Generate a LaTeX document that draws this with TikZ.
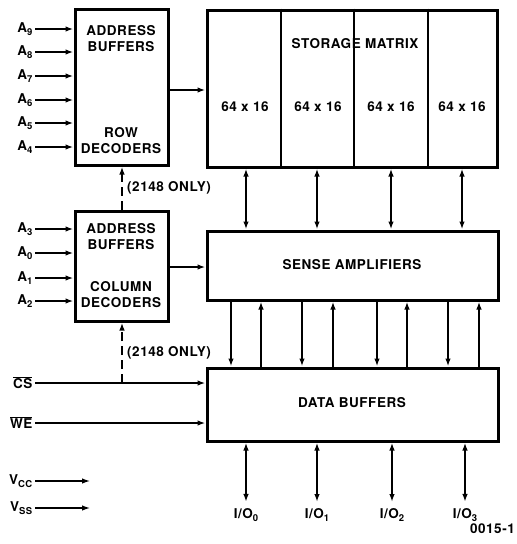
\documentclass[tikz,border=0pt]{standalone}
\usepackage{fontspec}
\setmainfont{TeX Gyre Heros}[LetterSpace=4]
\usetikzlibrary{arrows.meta}
\newcommand{\lowsub}[1]{\raisebox{-0.4ex}{\fontsize{9.5}{9.5}\selectfont #1}}

\begin{document}
\begin{tikzpicture}[x=1pt,y=-1pt,
    font=\fontsize{13.5}{16}\selectfont\bfseries,
    blk/.style={draw, line width=3pt, inner sep=0pt},
    sig/.style={line width=1.7pt, -{Latex[length=8pt,width=5.5pt]}},
    bus/.style={line width=1.7pt, {Latex[length=8pt,width=5.5pt]}-{Latex[length=8pt,width=5.5pt]}},
    opt/.style={sig, dash pattern=on 9pt off 5pt},
    pin/.style={anchor=east, inner sep=2.5pt},
    lbl/.style={align=center, inner sep=0pt}]
  \useasboundingbox (0,0) rectangle (517,544);

  % blocks
  \node[blk, minimum width=93pt, minimum height=156pt] (rowdec) at (121.5,87) {};
  \node[blk, minimum width=93pt, minimum height=110pt] (coldec) at (121.5,266) {};
  \node[blk, minimum width=290pt, minimum height=157pt] (matrix) at (352,88.5) {};
  \node[blk, minimum width=291pt, minimum height=69pt] (sense) at (352.5,265.5) {};
  \node[blk, minimum width=291pt, minimum height=73pt] (databuf) at (352.5,404.5) {};
  \foreach \x in {281,354,428}
    \draw[line width=1.7pt] (\x,0 |- matrix.north) -- (\x,0 |- matrix.south);

  % block texts
  \node[lbl] (rowaddr) at (121,39) {ADDRESS\\BUFFERS};
  \node[lbl] (rowtxt) at (121,141) {ROW\\DECODERS};
  \node[lbl] (coladdr) at (121,237) {ADDRESS\\BUFFERS};
  \node[lbl] (coltxt) at (121,295) {COLUMN\\DECODERS};
  \node[lbl] (mattxt) at (355,44) {STORAGE MATRIX};
  \foreach \x [count=\i] in {245,318,391,462}
    \node[lbl] (cell\i) at (\x,107) {64 x 16};
  \node[lbl] (sensetxt) at (352,265) {SENSE AMPLIFIERS};
  \node[lbl] (datatxt) at (352,403) {DATA BUFFERS};

  % address inputs
  \foreach \n/\y in {9/29,8/52,7/76,6/100,5/123,4/147} {
    \node[pin] (a\n) at (35,\y) {A\lowsub{\n}};
    \draw[sig] (a\n) -- (a\n -| rowdec.west);
  }
  \foreach \n/\y in {3/229,0/253,1/278,2/301} {
    \node[pin] (a\n) at (35,\y) {A\lowsub{\n}};
    \draw[sig] (a\n) -- (a\n -| coldec.west);
  }
  \draw[sig] (rowdec.east |- 0,90) -- (matrix.west |- 0,90);
  \draw[sig] (coldec.east |- 0,267) -- (sense.west |- 0,267);

  % column paths
  \foreach \x in {246,317,391,462}
    \draw[bus] (\x,0 |- matrix.south) -- (\x,0 |- sense.north);
  \foreach \x in {231,302,377,448}
    \draw[sig] (\x,0 |- sense.south) -- (\x,0 |- databuf.north);
  \foreach \x in {261,333,407,479}
    \draw[sig] (\x,0 |- databuf.north) -- (\x,0 |- sense.south);

  % control
  \node[pin] (cs) at (35,383) {$\overline{\mbox{CS}}$};
  \node[pin] (we) at (35,423) {$\overline{\mbox{WE}}$};
  \draw[sig] (cs) -- (cs -| databuf.west);
  \draw[sig] (we) -- (we -| databuf.west);
  \coordinate (csjoin) at (122,0 |- cs);
  \draw[opt] (csjoin) -- (coldec.south -| csjoin);
  \draw[opt] (coldec.north -| csjoin) -- (rowdec.south -| csjoin);
  \node[anchor=west, inner sep=0pt] (only1) at (127,188) {(2148 ONLY)};
  \node[anchor=west, inner sep=0pt] (only2) at (127,353) {(2148 ONLY)};

  % power
  \node[pin] (vcc) at (35,481) {V\lowsub{CC}};
  \node[pin] (vss) at (35,508) {V\lowsub{SS}};
  \coordinate (vccend) at (90,0 |- vcc);
  \coordinate (vssend) at (90,0 |- vss);
  \draw[sig, line width=1.2pt] (vcc) -- (vccend);
  \draw[sig, line width=1.2pt] (vss) -- (vssend);

  % data pins
  \foreach \n/\x in {0/246,1/317,2/392,3/465} {
    \node (io\n) at (\x,515) {I/O\lowsub{\n}};
    \draw[bus, shorten >=3pt] (databuf.south -| io\n) -- (io\n.north);
  }
  \node[anchor=east, inner sep=0pt] (fignum) at (515,529) {0015-1};
\end{tikzpicture}
\end{document}
